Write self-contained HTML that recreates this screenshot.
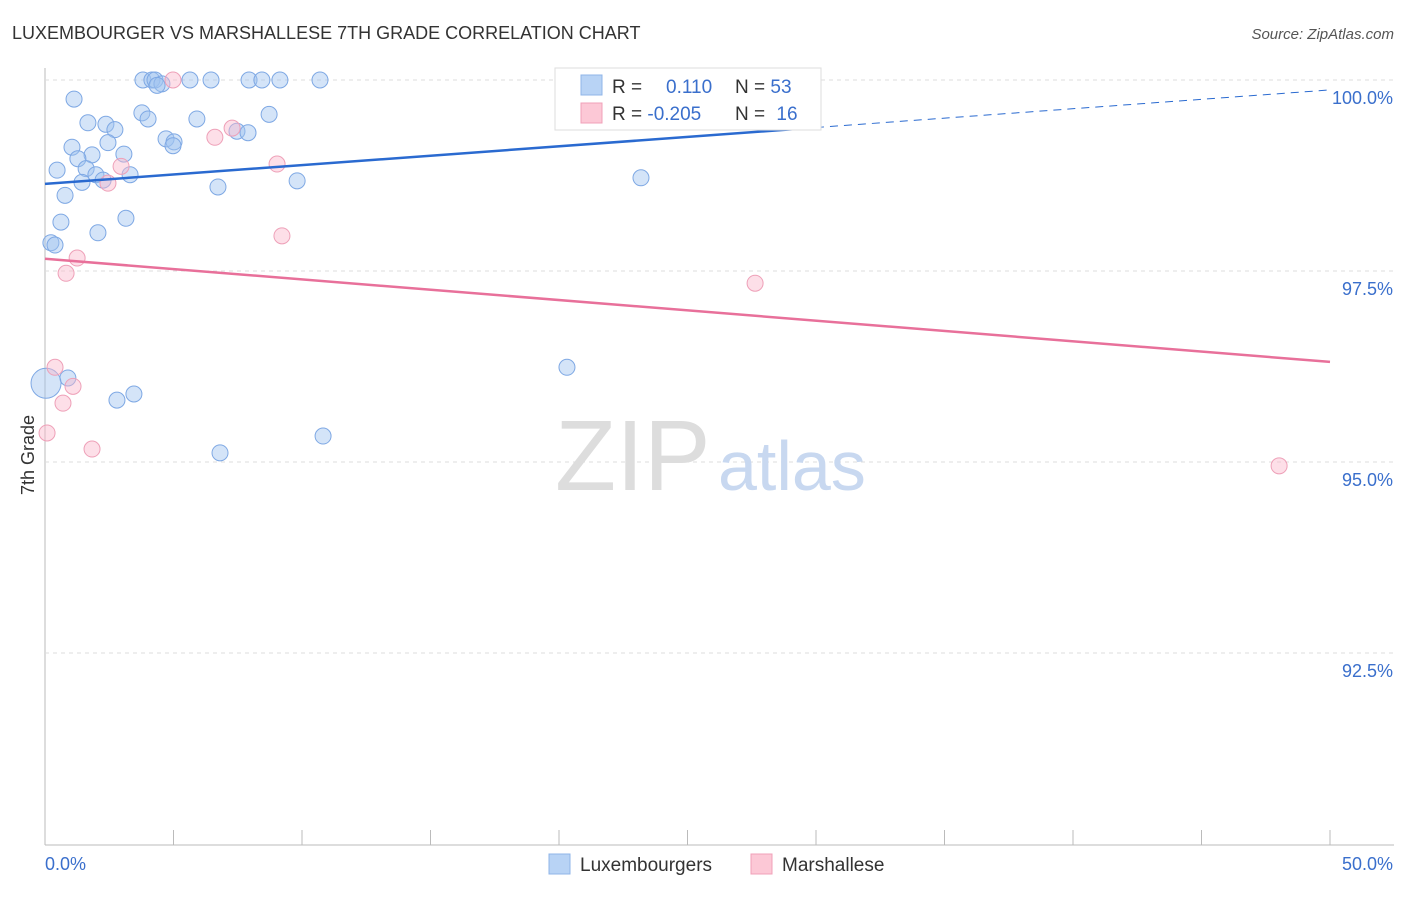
<!DOCTYPE html>
<html><head><meta charset="utf-8"><style>
body{margin:0;background:#fff;font-family:"Liberation Sans",sans-serif}
svg text{font-family:"Liberation Sans",sans-serif}
</style></head><body>
<svg id="chart" width="1406" height="892">
<text x="12" y="39" font-size="18" fill="#333">LUXEMBOURGER VS MARSHALLESE 7TH GRADE CORRELATION CHART</text>
<text x="1394" y="39" font-size="15" fill="#555" font-style="italic" text-anchor="end">Source: ZipAtlas.com</text>
<text x="34" y="455" font-size="18" fill="#333" transform="rotate(-90 34 455)" text-anchor="middle">7th Grade</text>
<g id="grid"></g>
<text x="555" y="490" font-size="100" fill="#ddd" font-family="Liberation Serif">ZIP</text>
<text x="718" y="490" font-size="70" fill="#c8d8f0">atlas</text>
<g id="marks"></g>
<g>
<rect x="555" y="68" width="266" height="62" fill="#fff" stroke="#ddd"/>
<rect x="581" y="75" width="21" height="20" fill="#b8d3f5" stroke="#8fb4e8"/>
<rect x="581" y="103" width="21" height="20" fill="#fcc8d6" stroke="#f0a0b8"/>
<text x="612" y="93" font-size="19" fill="#333">R = <tspan x="666" fill="#3a6fcc">0.110</tspan></text>
<text x="735" y="93" font-size="19" fill="#333">N = <tspan fill="#3a6fcc">53</tspan></text>
<text x="612" y="120" font-size="19" fill="#333">R = <tspan fill="#3a6fcc">-0.205</tspan></text>
<text x="735" y="120" font-size="19" fill="#333">N = <tspan dx="6" fill="#3a6fcc">16</tspan></text>
</g>
<g>
<rect x="549" y="854" width="21" height="20" fill="#b8d3f5" stroke="#8fb4e8"/>
<text x="580" y="871" font-size="19" fill="#333">Luxembourgers</text>
<rect x="751" y="854" width="21" height="20" fill="#fcc8d6" stroke="#f0a0b8"/>
<text x="782" y="871" font-size="19" fill="#333">Marshallese</text>
</g>
</svg>
<script>
const yTicks=[100,97.5,95,92.5];
const yTickLabels=["100.0%","97.5%","95.0%","92.5%"];
const xEndLabels=["0.0%","50.0%"];
const blueX=[3.81,4.16,4.28,5.64,6.46,7.94,8.44,9.14,10.70,4.55,4.36,1.13,3.77,8.72,4.01,5.91,1.67,2.37,2.72,7.47,7.90,4.71,5.02,2.45,4.98,1.05,1.83,3.07,1.28,0.47,1.60,1.98,3.31,2.26,1.44,6.73,9.81,23.19,0.78,3.15,0.62,2.06,0.23,0.39,20.31,0.89,3.46,2.80,10.82,6.81,24.98,26.85,0.04];
const blueY=[100,100,100,100,100,100,100,100,100,99.95,99.93,99.75,99.57,99.55,99.49,99.49,99.44,99.42,99.35,99.33,99.31,99.23,99.19,99.18,99.14,99.12,99.02,99.03,98.97,98.82,98.84,98.76,98.76,98.69,98.66,98.60,98.68,98.72,98.49,98.19,98.14,98.00,97.87,97.84,96.24,96.10,95.89,95.81,95.34,95.12,100,100,96.03];
const pinkX=[4.98,7.28,6.61,9.03,2.96,2.45,9.22,1.25,0.82,27.63,0.39,1.09,0.70,0.08,1.83,48.02];
const pinkY=[100,99.37,99.25,98.90,98.87,98.65,97.96,97.67,97.47,97.34,96.24,95.99,95.77,95.38,95.17,94.95];
const blueTrend=[98.64,99.87];
const pinkTrend=[97.66,96.31];
const NS="http://www.w3.org/2000/svg";
const X=v=>45+v/50*1285, Y=v=>80+(100-v)/5*382;
function mk(t,a,p){const e=document.createElementNS(NS,t);for(const k in a)e.setAttribute(k,a[k]);p.appendChild(e);return e;}
const g=document.getElementById('grid'), m=document.getElementById('marks');
let ax=mk('line',{x1:45,y1:68,x2:45,y2:845,stroke:'#bbb'},g);

let bx=mk('line',{x1:45,y1:845,x2:1394,y2:845,stroke:'#bbb'},g);

for(let i=1;i<=10;i++){let t=mk('line',{x1:X(i*5),y1:830,x2:X(i*5),y2:845,stroke:'#bbb'},g);
}
yTicks.forEach((v,i)=>{let l=mk('line',{x1:45,y1:Y(v),x2:1394,y2:Y(v),stroke:'#ddd','stroke-dasharray':'4,4'},g);

let t=mk('text',{x:1393,y:Y(v)+24,'font-size':18,fill:'#3a6fcc','text-anchor':'end'},g);t.textContent=yTickLabels[i];
});
xEndLabels.forEach((s,i)=>{let t=mk('text',{x:i?1393:45,y:870,'font-size':18,fill:'#3a6fcc','text-anchor':i?'end':'start'},g);t.textContent=s;
});
blueX.forEach((x,i)=>{let c=mk('circle',{cx:X(x),cy:Y(blueY[i]),r:i==blueX.length-1?15:8,fill:'rgba(160,195,240,0.45)',stroke:'#7ea8e4','stroke-width':1},m);
});
pinkX.forEach((x,i)=>{let c=mk('circle',{cx:X(x),cy:Y(pinkY[i]),r:8,fill:'rgba(250,185,205,0.45)',stroke:'#eea0b8','stroke-width':1},m);
});
const bAt=x=>blueTrend[0]+(blueTrend[1]-blueTrend[0])*x/50;
let b1=mk('line',{x1:X(0),y1:Y(bAt(0)),x2:X(30),y2:Y(bAt(30)),stroke:'#2a6ad0','stroke-width':2.5},m);

let b2=mk('line',{x1:X(30),y1:Y(bAt(30)),x2:X(50),y2:Y(bAt(50)),stroke:'#2a6ad0','stroke-width':1,'stroke-dasharray':'8,6'},m);

let p1=mk('line',{x1:X(0),y1:Y(pinkTrend[0]),x2:X(50),y2:Y(pinkTrend[1]),stroke:'#e8709a','stroke-width':2.5},m);

</script>
</body></html>
